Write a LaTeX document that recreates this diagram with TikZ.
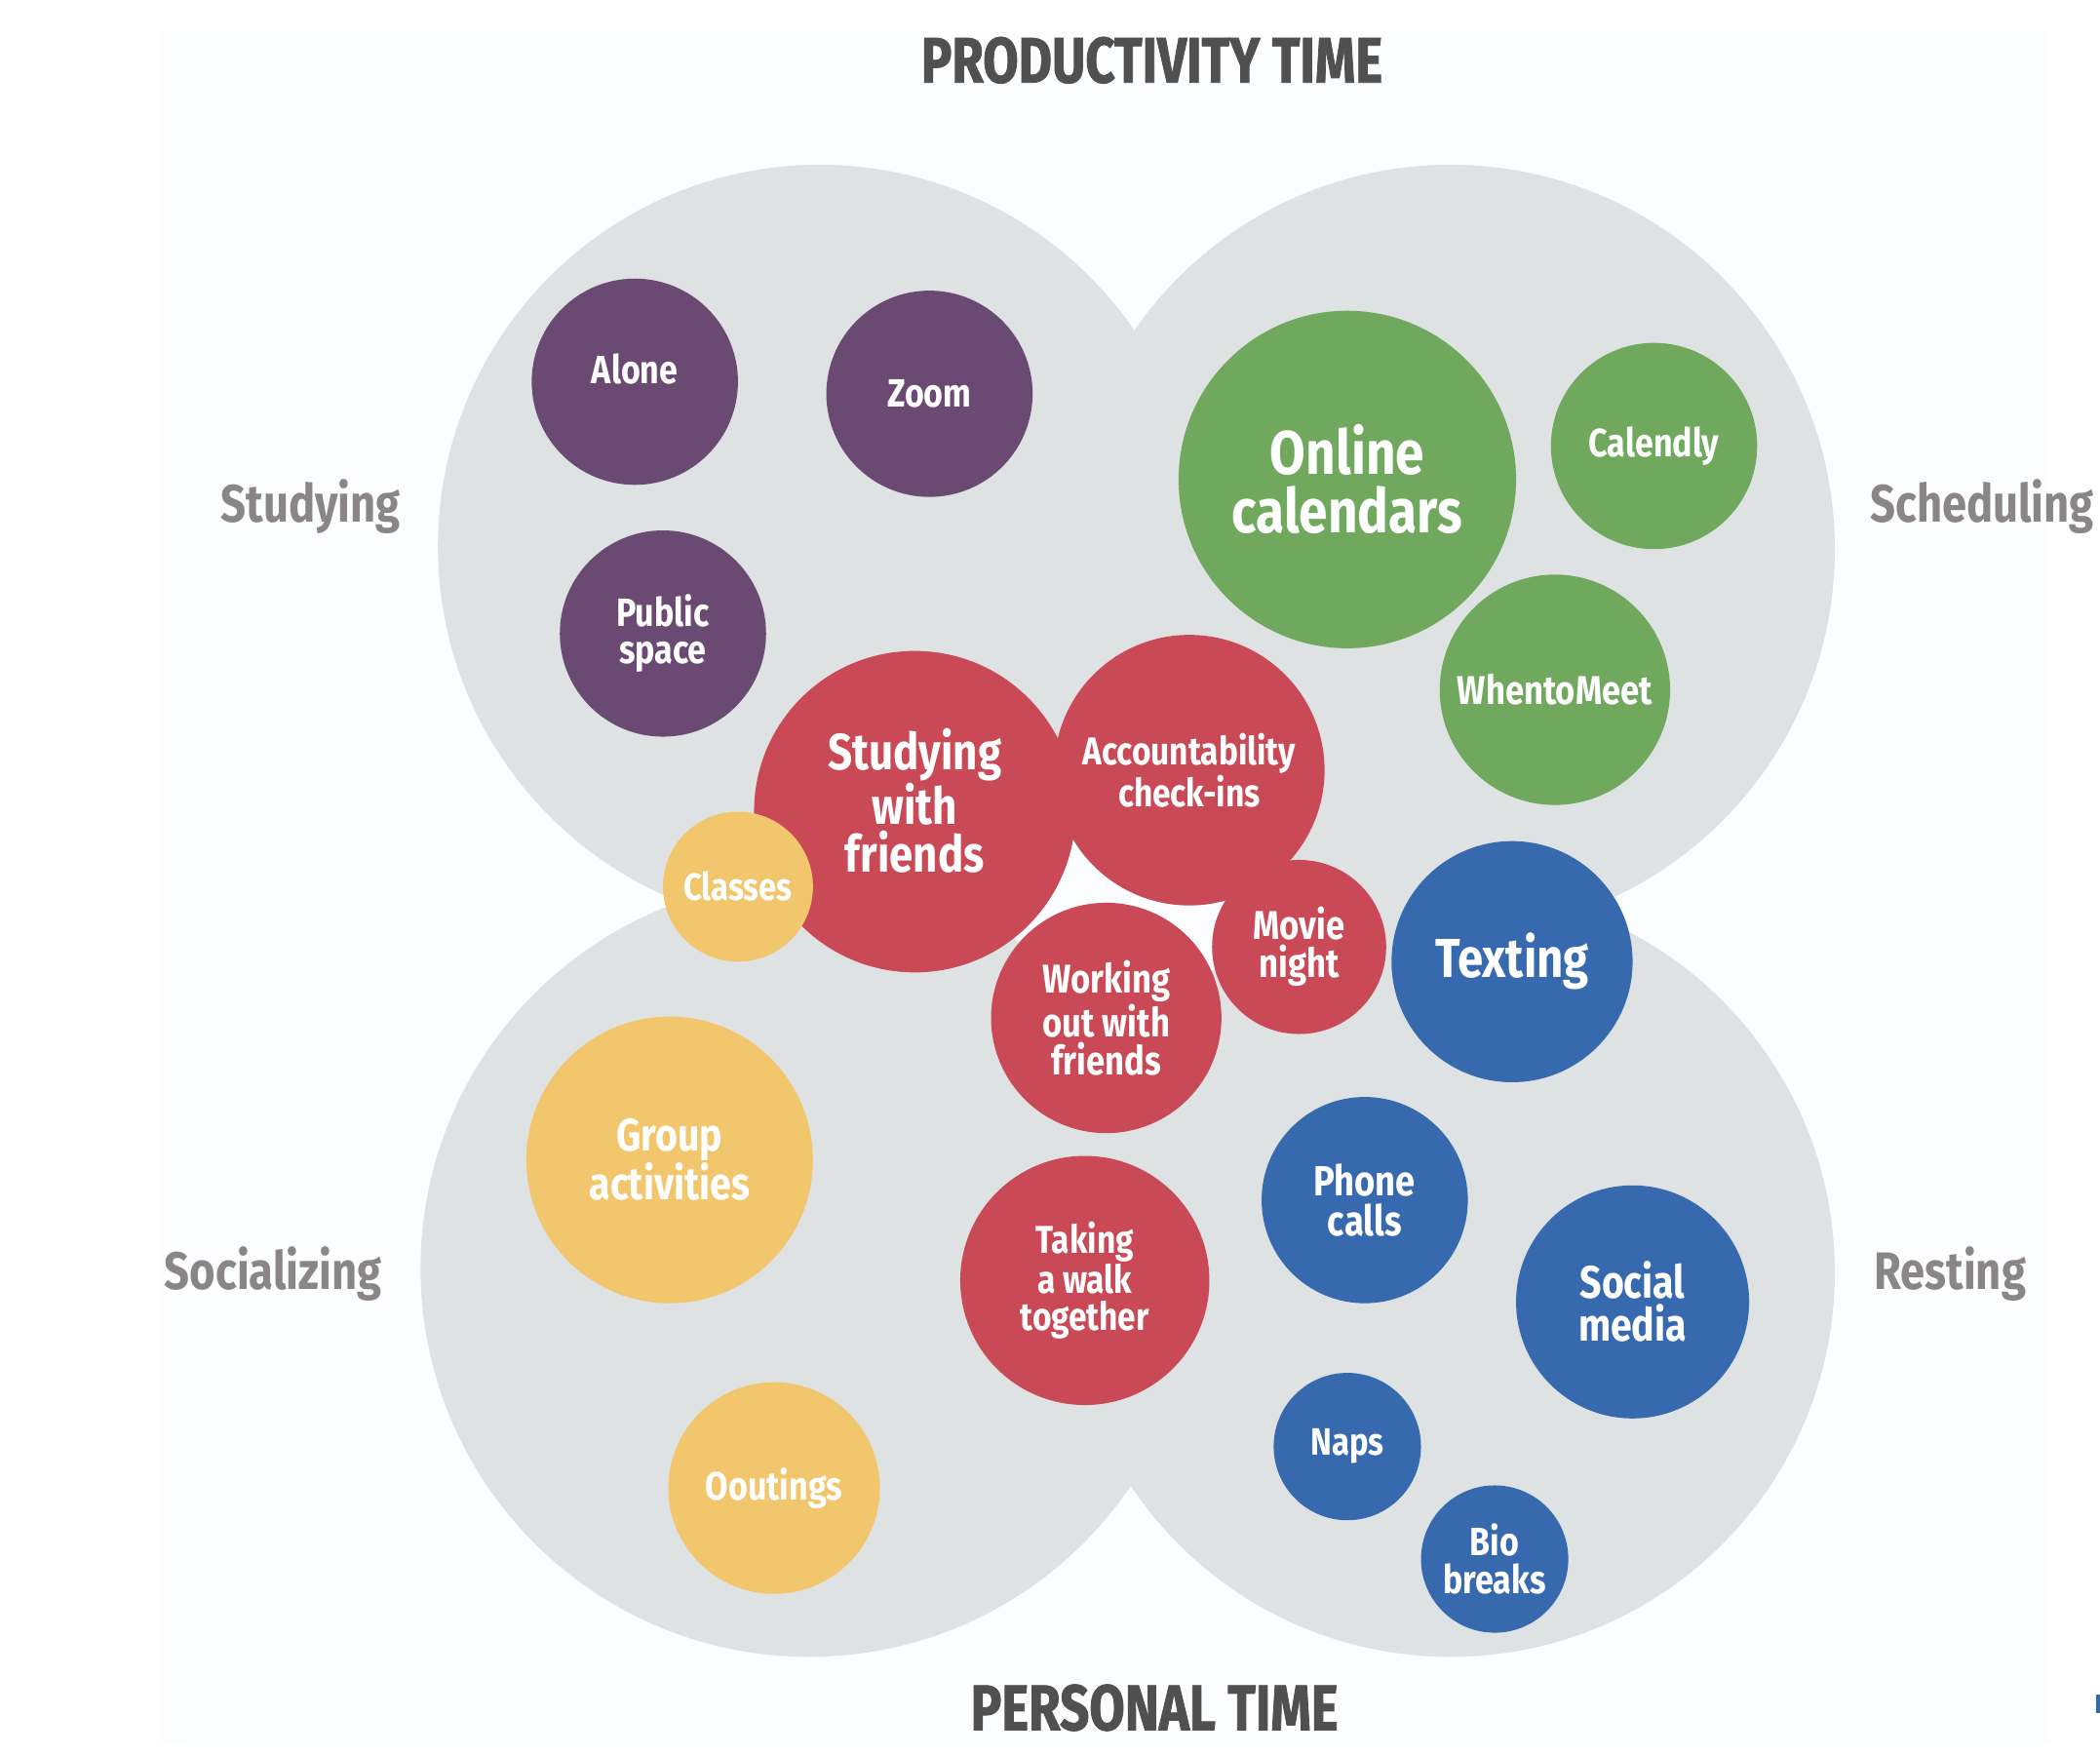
\documentclass[tikz,border=0pt]{standalone}
\usepackage{fontspec}
\setmainfont{Fira Sans}[FakeStretch=0.84]
\newfontfamily\titlefont{Fira Sans}[FakeStretch=0.80,FakeBold=1.2]

\definecolor{bgpage}{RGB}{252,253,254}
\definecolor{greycirc}{RGB}{223,226,227}
\definecolor{purplebub}{RGB}{106,74,114}
\definecolor{greenbub}{RGB}{112,168,94}
\definecolor{redbub}{RGB}{201,74,86}
\definecolor{yellowbub}{RGB}{242,198,108}
\definecolor{bluebub}{RGB}{55,105,174}
\definecolor{titlegrey}{RGB}{80,80,80}
\definecolor{labelgrey}{RGB}{139,134,134}

\tikzset{
  bub/.style={circle, inner sep=0pt, minimum size=#1*1.5pt, text=white, align=center},
  fs/.code={\pgfmathsetmacro\fsz{#1*0.75}\pgfmathsetmacro\fsl{#1*0.71}%
    \tikzset{font=\bfseries\fontsize{\fsz pt}{\fsl pt}\selectfont}},
  purple/.style={fill=purplebub},
  green/.style={fill=greenbub},
  red/.style={fill=redbub},
  yellow/.style={fill=yellowbub},
  blue/.style={fill=bluebub},
  heading/.style={text=titlegrey, font=\titlefont\bfseries\fontsize{36pt}{40pt}\selectfont},
  side/.style={text=labelgrey, font=\bfseries\fontsize{29.5pt}{32pt}\selectfont}
}

\begin{document}
\begin{tikzpicture}[x=0.75pt,y=0.75pt,yscale=-1,xscale=1]
	\useasboundingbox (0,0) rectangle (1568,1310);
	\fill[white] (0,0) rectangle (1568,1310);
	\fill[bgpage] (120,23) rectangle (1530,1302);
	\fill[bluebub] (1565,1265) rectangle (1568,1279);
	
	%Grey circles
	\fill[greycirc] (612,408) circle (285);
	\fill[greycirc] (1083,410) circle (287);
	\fill[greycirc] (604,947) circle (290);
	\fill[greycirc] (1083,950) circle (287);
	
	% Headings
	\node[heading] (prod) at (860,45) {PRODUCTIVITY TIME};
	\node[heading] (pers) at (862,1275) {PERSONAL TIME};
	\node[side] (study) at (232,378) {Studying};
	\node[side] (sched) at (1480,378) {Scheduling};
	\node[side] (social) at (204,951) {Socializing};
	\node[side] (rest) at (1456,951) {Resting};
	
	% Studying
	\node[bub=77, purple, label={[name=alonetxt, text=white, fs=29.5, yshift=7pt]center:Alone}] (alone) at (474,285) {};
	\node[bub=77, purple, fs=29.5] (zoom) at (694,294) {Zoom};
	\node[bub=77, purple, fs=29.5] (public) at (495,473) {Public\\space};
	
	% Scheduling
	\node[bub=126, green, fs=46] (online) at (1006,358) {Online\\calendars};
	\node[bub=77, green, fs=29.5] (calendly) at (1235,333) {Calendly};
	\node[bub=86, green, fs=30] (when) at (1161,515) {WhentoMeet};
	
	% Shared
	\node[bub=120, red, label={[name=swftxt, text=white, align=center, fs=38, yshift=6pt]center:Studying\\with\\friends}] (swf) at (683,606) {};
	\node[bub=101, red, fs=29] (account) at (888,575) {Accountability\\check-ins};
	\node[bub=56, yellow, fs=28.5] (classes) at (551,662) {Classes};
	\node[bub=65, red, fs=30] (movie) at (970,707) {Movie\\night};
	\node[bub=86, red, fs=30] (workout) at (826,760) {Working\\out with\\friends};
	\node[bub=90, blue, fs=41] (texting) at (1129,718) {Texting};
	
	% Socializing
	\node[bub=107, yellow, fs=34] (group) at (500,866) {Group\\activities};
	\node[bub=93, red, fs=29] (walk) at (810,956) {Taking\\a walk\\together};
	\node[bub=79, yellow, fs=29.5] (outings) at (578,1111) {Ooutings};
	
	% Resting
	\node[bub=77, blue, fs=31.5] (phone) at (1019,896) {Phone\\calls};
	\node[bub=87, blue, fs=34] (socmed) at (1219,972) {Social\\media};
	\node[bub=55, blue, fs=28.5] (naps) at (1006,1080) {Naps};
	\node[bub=55, blue, fs=29.5] (bio) at (1116,1164) {Bio\\breaks};
	
\end{tikzpicture}
\end{document}
